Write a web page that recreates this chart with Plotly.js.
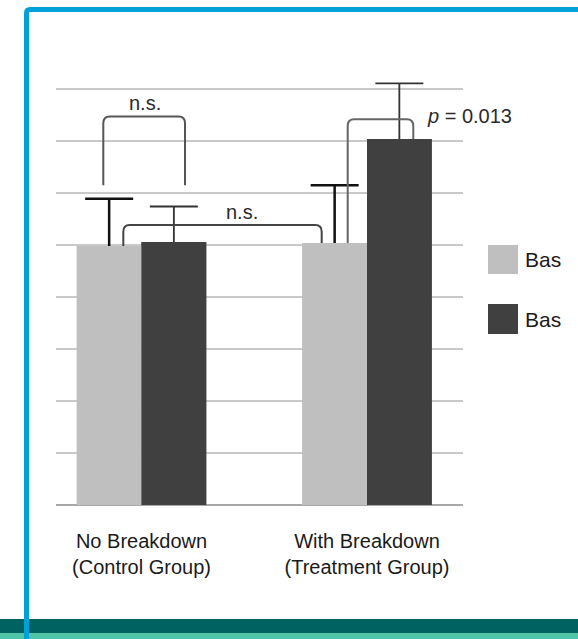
<!DOCTYPE html>
<html><head><meta charset="utf-8">
<script src="https://cdn.plot.ly/plotly-3.0.1.min.js"></script>
<style>html,body{margin:0;padding:0;background:#fff;overflow:hidden}#chart{width:578px;height:639px}</style>
</head><body><div id="chart"></div>
<script>
// ---- data ----
const categories = ['No Breakdown<br>(Control Group)', 'With Breakdown<br>(Treatment Group)'];
const seriesNames = ['Bas', 'Bas'];   // legend labels as visible (cropped) in the reference
const lightValues = [4.98, 5.04];
const lightErrors = [0.91, 1.11];
const darkValues = [5.06, 7.04];
const darkErrors = [0.68, 1.07];

// ---- styling / geometry ----
const LIGHT = '#bfbfbf', DARK = '#404040';
const L = 56, R = 463, T = 68, B = 505, W = 578, H = 639;
const px = x => (x - L) / (R - L);
const py = y => (B - y) / (B - T);
const xs = categories.map((c, i) => i);

function errBar(arr, color, th) {
  return {type: 'data', array: arr, arrayminus: arr.map(() => 0.05), symmetric: false,
          color: color, thickness: th, width: 24, visible: true};
}
const traces = [
  {type: 'bar', x: xs, y: lightValues, name: seriesNames[0], offsetgroup: 'a',
   marker: {color: LIGHT, line: {width: 0}}, error_y: errBar(lightErrors, '#111', 2.5), hoverinfo: 'skip', showlegend: false},
  {type: 'bar', x: xs, y: darkValues, name: seriesNames[1], offsetgroup: 'b',
   marker: {color: DARK, line: {width: 0}}, error_y: errBar(darkErrors, '#333', 1.8), hoverinfo: 'skip', showlegend: false},
  {type: 'bar', x: xs, y: lightValues, name: seriesNames[0], offsetgroup: 'a',
   marker: {color: LIGHT, line: {width: 0}}, hoverinfo: 'skip', showlegend: false},
  {type: 'bar', x: xs, y: darkValues, name: seriesNames[1], offsetgroup: 'b',
   marker: {color: DARK, line: {width: 0}}, hoverinfo: 'skip', showlegend: false}
];

// significance brackets (data coords)
function bracket(x1, yb1, x2, yb2, yt, color) {
  const dx = 0.028, dy = 0.13;
  const p = `M${x1},${yb1} L${x1},${yt - dy} Q${x1},${yt} ${x1 + dx},${yt} L${x2 - dx},${yt} Q${x2},${yt} ${x2},${yt - dy} L${x2},${yb2}`;
  return {type: 'path', xref: 'x', yref: 'y', path: p, line: {color: color, width: 2}, layer: 'above'};
}

const shapes = [
  // bottom teal bands
  {type: 'rect', xref: 'paper', yref: 'paper', x0: px(-10), x1: px(W + 10), y0: py(633), y1: py(619),
   fillcolor: '#006362', line: {width: 0}, layer: 'above'},
  {type: 'rect', xref: 'paper', yref: 'paper', x0: px(-10), x1: px(W + 10), y0: py(H + 10), y1: py(633),
   fillcolor: '#4fc6a7', line: {width: 0}, layer: 'above'},
  // blue frame
  {type: 'path', xref: 'paper', yref: 'paper',
   path: `M${px(26.5)},${py(H + 10)} L${px(26.5)},${py(13)} Q${px(26.5)},${py(9.5)} ${px(30)},${py(9.5)} L${px(W + 10)},${py(9.5)}`,
   line: {color: '#00a0da', width: 5}, layer: 'above'},
  bracket(-0.1694, 6.15, 0.1929, 6.15, 7.47, '#555'),
  bracket(-0.0807, 4.98, 0.7991, 5.04, 5.385, '#444'),
  bracket(0.9144, 5.04, 1.2053, 7.04, 7.417, '#666'),
  // custom legend swatches
  {type: 'rect', xref: 'paper', yref: 'paper', x0: px(488), x1: px(518), y0: py(274), y1: py(245),
   fillcolor: LIGHT, line: {width: 0}, layer: 'above'},
  {type: 'rect', xref: 'paper', yref: 'paper', x0: px(488), x1: px(518), y0: py(334), y1: py(304),
   fillcolor: DARK, line: {width: 0}, layer: 'above'}
];

const FAM = 'Liberation Sans, Arial, sans-serif';
const txtFont = {family: FAM, size: 20, color: '#2a2a2a'};
const legFont = {family: FAM, size: 21, color: '#1a1a1a'};
const annotations = [
  {xref: 'x', yref: 'y', x: 0.0155, y: 7.74, text: 'n.s.', showarrow: false, font: txtFont, xanchor: 'center', yanchor: 'middle'},
  {xref: 'x', yref: 'y', x: 0.4443, y: 5.64, text: 'n.s.', showarrow: false, font: txtFont, xanchor: 'center', yanchor: 'middle'},
  {xref: 'x', yref: 'y', x: 1.2572, y: 7.487, text: '<i>p</i> = 0.013', showarrow: false, font: txtFont, xanchor: 'left', yanchor: 'middle'},
  {xref: 'paper', yref: 'paper', x: px(523), y: py(259.5), text: seriesNames[0], showarrow: false,
   font: legFont, xanchor: 'left', yanchor: 'middle'},
  {xref: 'paper', yref: 'paper', x: px(523), y: py(319), text: seriesNames[1], showarrow: false,
   font: legFont, xanchor: 'left', yanchor: 'middle'}
];

const layout = {
  width: W, height: H,
  margin: {l: L, r: W - R, t: T, b: H - B, pad: 0},
  paper_bgcolor: '#fff', plot_bgcolor: '#fff',
  barmode: 'group', bargap: 0.426, bargroupgap: 0,
  showlegend: false,
  font: {family: FAM, color: '#1a1a1a'},
  xaxis: {type: 'linear', range: [-0.3792, 1.4257], tickvals: xs, ticktext: categories,
          showgrid: false, zeroline: false, showline: false, ticks: '',
          ticklabelstandoff: 22, tickfont: {size: 20, color: '#1a1a1a'}, fixedrange: true},
  yaxis: {range: [0, (B - T) / 52], dtick: 1, tick0: 0, showticklabels: false, ticks: '',
          showgrid: true, gridcolor: '#c9c9c9', gridwidth: 1.5,
          zeroline: true, zerolinecolor: '#a8a8a8', zerolinewidth: 1.5, showline: false, fixedrange: true},
  shapes: shapes, annotations: annotations
};
Plotly.newPlot('chart', traces, layout, {displayModeBar: false, staticPlot: true});
</script>
</body></html>
